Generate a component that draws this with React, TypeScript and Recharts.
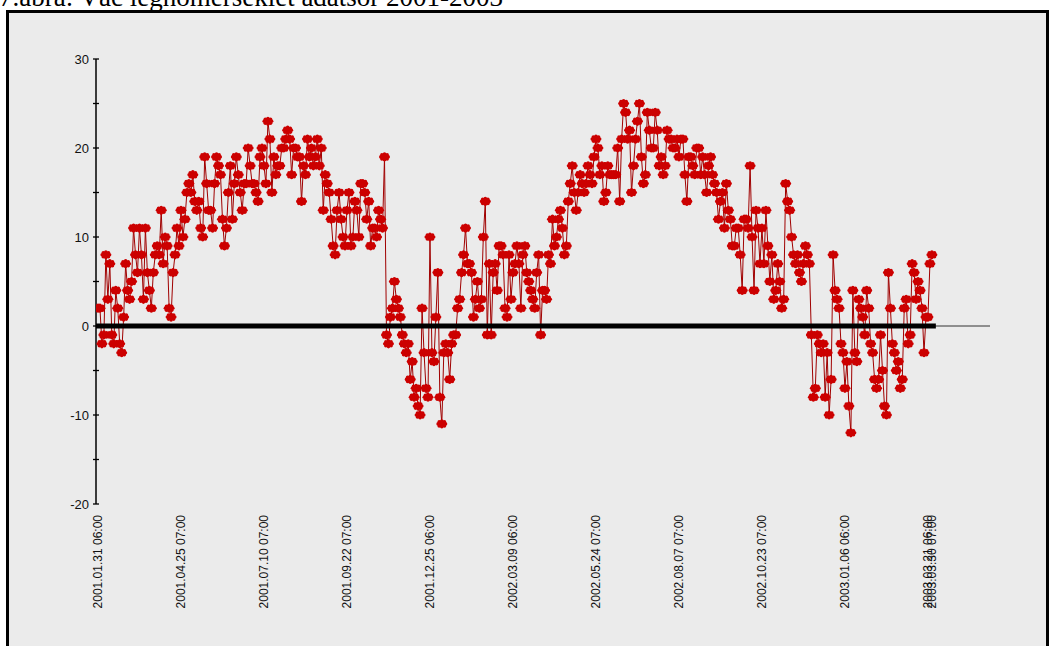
import React from "react";
import { LineChart, Line, XAxis, YAxis, ReferenceLine } from "recharts";

// 7 o'clock air temperature readings (°C)
const temps: number[] = [
  2, 2, -2, -1, 8, 3, 7, -1, -2, 4, 2, -2, -3, 1, 7, 4, 3, 5, 11, 8,
  6, 11, 8, 3, 11, 6, 4, 2, 6, 8, 9, 8, 13, 7, 10, 9, 2, 1, 6, 8,
  11, 9, 13, 10, 12, 15, 16, 15, 17, 14, 13, 14, 11, 10, 19, 16, 13, 13, 11, 16,
  19, 18, 17, 12, 9, 11, 15, 18, 12, 16, 19, 17, 15, 13, 16, 16, 20, 18, 16, 16,
  15, 14, 19, 20, 18, 16, 23, 21, 15, 19, 17, 18, 18, 20, 20, 21, 22, 21, 17, 20,
  20, 19, 19, 14, 18, 17,
  21, 19, 20, 18, 19, 21, 18, 20, 13, 17, 16, 15, 12, 9, 8, 13, 15, 12, 10, 9,
  13, 15, 9, 10, 14, 13, 10, 16, 16, 15, 12, 14, 9, 11, 11, 10, 13, 12, 11, 19,
  -1, -2, 1, 2, 5, 3, 2, 1, -1, -2, -3, -2, -6, -4, -8, -7, -9, -10, 2, -3,
  -7, -8, 10, -3, -4, 1, 6, -8, -11, -3, -2, -3, -6, -2, -1, -1, 2, 3, 6, 8,
  11, 7, 7, 6, 1, 3, 5, 2, 3, 10, 14, -1, 7, -1, 6, 7, 4, 9, 9, 8,
  2, 1, 8, 3, 6, 7,
  9, 7, 2, 8, 9, 6, 5, 4, 3, 2, 6, 8, -1, 4, 4, 3, 8, 7, 12, 9,
  10, 12, 13, 11, 8, 9, 14, 16, 18, 15, 13, 15, 17, 16, 15, 16, 18, 17, 16, 19,
  21, 20, 17, 18, 14, 15, 18, 17, 17, 17, 17, 20, 14, 21, 25, 24, 21, 22, 15, 18,
  21, 23, 25, 19, 16, 17, 24, 22, 20, 20, 24, 22, 18, 19, 17, 18, 22, 21, 21, 20,
  20, 21, 19, 21, 21, 17, 14, 19, 19, 18, 17, 20, 20, 17, 19, 17, 15, 18, 19, 17,
  16, 15, 12, 14, 15, 11,
  16, 13, 12, 9, 9, 11, 11, 8, 4, 12, 12, 11, 18, 10, 4, 13, 11, 7, 11, 7,
  13, 9, 5, 8, 3, 4, 7, 5, 2, 3, 16, 14, 13, 10, 8, 7, 8, 6, 5, 7,
  9, 8, 7, -1, -8, -7, -1, -2, -3, -2, -8, -3, -10, -6, 8, 4, 3, 2, -2, -3,
  -7, -4, -9, -12, 4, -3, -4, 3, 2, 1, -1, 4, 2, -2, -3, -6, -7, -6, -1, -5,
  -9, -10, 6, 2, -2, -3, -5, -4, -7, -6, 2, 3, -2, -1, 7, 6, 3, 5, 4, 2,
  -3, 1, 1, 7, 8,
];

const tickIndex: number[] = [0, 42, 84, 126, 168, 210, 252, 294, 336, 378, 420, 422];
const tickLabels: string[] = [
  "2001.01.31 06:00",
  "2001.04.25 07:00",
  "2001.07.10 07:00",
  "2001.09.22 07:00",
  "2001.12.25 06:00",
  "2002.03.09 06:00",
  "2002.05.24 07:00",
  "2002.08.07 07:00",
  "2002.10.23 07:00",
  "2003.01.06 06:00",
  "2003.03.21 06:00",
  "2003.03.30 07:00",
];
const yTicks: number[] = [-20, -15, -10, -5, 0, 5, 10, 15, 20, 25, 30];

const title = "7.ábra: Vác léghőmérséklet adatsor 2001-2003";

const data = temps.map((t, i) => ({ i, t }));
const lastIndex = temps.length - 1;

const labelFor = (v: number) => {
  const k = tickIndex.indexOf(v);
  return k >= 0 ? tickLabels[k] : "";
};

const sans = "'Liberation Sans', Arial, sans-serif";

function XTick(props: any) {
  const { x, y, payload } = props;
  return (
    <text
      x={0}
      y={0}
      transform={`translate(${x},${y + 11}) rotate(-90)`}
      textAnchor="end"
      dy="0.36em"
      fontSize={12}
      fontFamily={sans}
      fill="#111"
    >
      {labelFor(payload.value)}
    </text>
  );
}

function YTick(props: any) {
  const { x, y, payload } = props;
  const v = payload.value;
  return (
    <g>
      <line x1={x - 3} x2={x + 3} y1={y} y2={y} stroke="#000" strokeWidth={1.3} />
      {v % 10 === 0 ? (
        <text x={x - 7} y={y} dy="0.36em" textAnchor="end" fontSize={13} fontFamily={sans} fill="#111">
          {v}
        </text>
      ) : null}
    </g>
  );
}

const lobes = [0, 45, 90, 135, 180, 225, 270, 315].map((a) => [
  Math.cos((a * Math.PI) / 180) * 3.7,
  Math.sin((a * Math.PI) / 180) * 2.8,
]);

function renderDot(props: any) {
  const { cx, cy, index } = props;
  if (cx == null || cy == null) return <g key={`d${index}`} />;
  return (
    <g key={`d${index}`} transform={`translate(${cx},${cy})`}>
      <ellipse rx={4} ry={3.3} fill="#cc0000" />
      {lobes.map(([dx, dy], k) => (
        <circle key={k} cx={dx} cy={dy} r={1.8} fill="#cc0000" />
      ))}
    </g>
  );
}

export default function App() {
  return (
    <div
      style={{
        position: "absolute",
        left: 0,
        top: 0,
        width: 1052,
        height: 646,
        overflow: "hidden",
        background: "#fff",
      }}
    >
      <div
        style={{
          position: "absolute",
          left: -1,
          top: -16,
          fontFamily: "'Liberation Serif', 'Times New Roman', serif",
          fontSize: 27,
          lineHeight: "27px",
          whiteSpace: "nowrap",
          color: "#000",
        }}
      >
        {title}
      </div>
      <div
        style={{
          position: "absolute",
          left: 6,
          top: 10,
          width: 1037,
          height: 700,
          border: "3px solid #000",
          background: "#ebebeb",
        }}
      />
      <div style={{ position: "absolute", left: 0, top: 0 }}>
        <LineChart
          width={1052}
          height={646}
          data={data}
          margin={{ top: 59, right: 62, bottom: 22, left: 36 }}
        >
          <XAxis
            type="number"
            dataKey="i"
            domain={[-1, 451.4]}
            ticks={tickIndex}
            interval={0}
            tick={<XTick />}
            axisLine={false}
            tickLine={false}
            tickSize={0}
            tickMargin={0}
            height={120}
            allowDataOverflow
          />
          <YAxis
            type="number"
            domain={[-20, 30]}
            ticks={yTicks}
            interval={0}
            tick={<YTick />}
            tickLine={false}
            tickSize={0}
            tickMargin={0}
            width={60}
            axisLine={{ stroke: "#000", strokeWidth: 1.5 }}
            allowDataOverflow
          />
          <ReferenceLine y={0} stroke="#333" strokeWidth={1} />
          <Line
            type="linear"
            dataKey="t"
            stroke="#a00000"
            strokeWidth={1}
            dot={renderDot}
            activeDot={false}
            isAnimationActive={false}
          />
          <ReferenceLine
            segment={[
              { x: -1, y: 0 },
              { x: lastIndex + 2, y: 0 },
            ]}
            stroke="#000"
            strokeWidth={5}
          />
        </LineChart>
      </div>
    </div>
  );
}
